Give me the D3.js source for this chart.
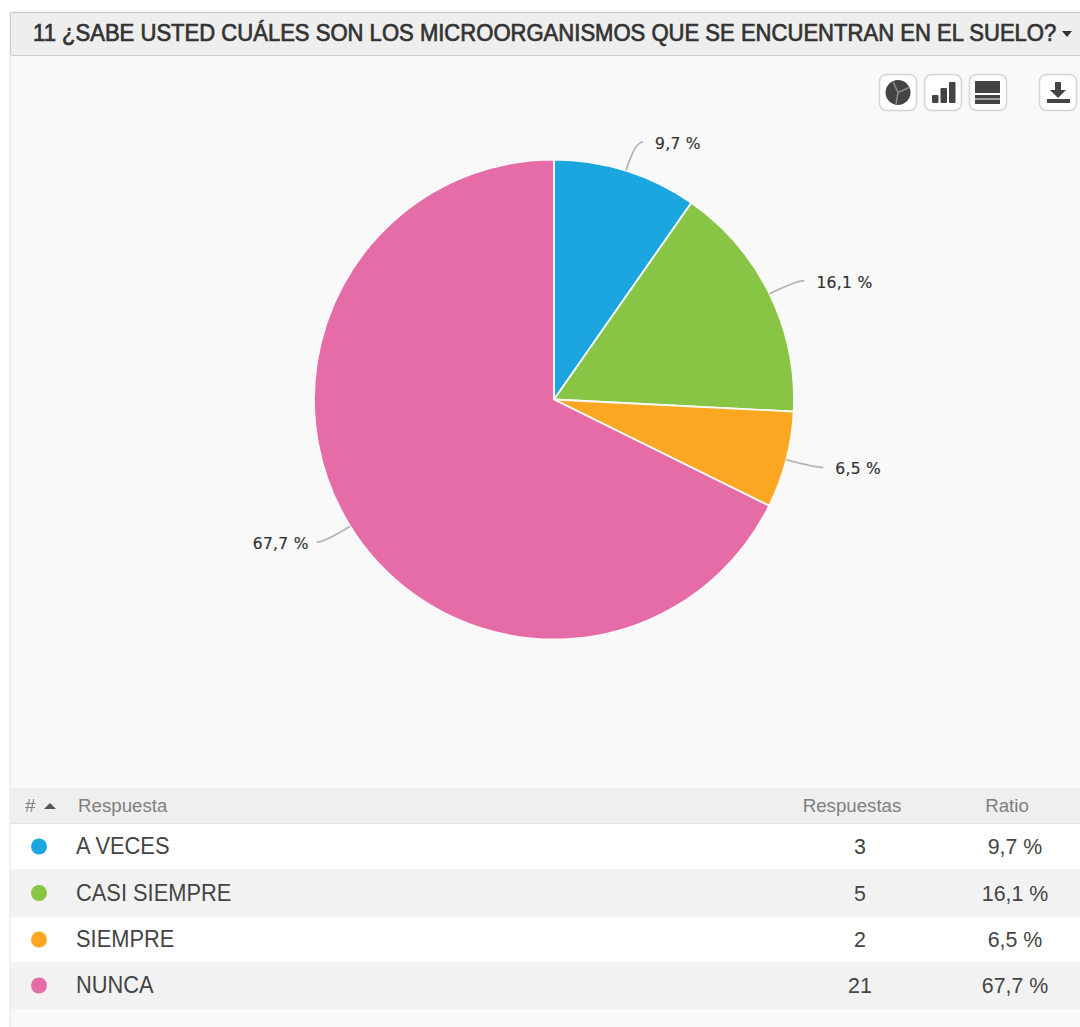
<!DOCTYPE html>
<html lang="es">
<head>
<meta charset="utf-8">
<title>Microorganismos del suelo</title>
<style>
  html, body { margin: 0; padding: 0; background: #fff; }
  svg { display: block; }
  text { font-family: "Liberation Sans", Arial, sans-serif; }
  text.pct { font-family: "DejaVu Sans", Verdana, sans-serif; }
</style>
<script src="https://cdn.jsdelivr.net/npm/d3@7"></script>
</head>
<body>
<svg id="chart" width="1080" height="1027"></svg>
<script>
// Survey question and its answers
const question = "11 ¿SABE USTED CUÁLES SON LOS MICROORGANISMOS QUE SE ENCUENTRAN EN EL SUELO?";
const answers = ["A VECES", "CASI SIEMPRE", "SIEMPRE", "NUNCA"];
const responses = [3, 5, 2, 21];
const ratios = [9.7, 16.1, 6.5, 67.7];
const colors = ["#1ca6df", "#88c545", "#fca722", "#e66ca8"];
const columnHeads = ["#", "Respuesta", "Respuestas", "Ratio"];

const fmt = v => String(v).replace(".", ",") + " %";
const svg = d3.select("#chart");

// Panel and heading bar
svg.append("rect").attr("x", 10).attr("y", 12).attr("width", 1075).attr("height", 1020)
  .attr("fill", "#f9f9f9").attr("stroke", "#e6e6e6");
svg.append("rect").attr("x", 10.5).attr("y", 12.5).attr("width", 1075).attr("height", 43).attr("rx", 2)
  .attr("fill", "#eeeeee").attr("stroke", "#cccccc");
// The heading is set slightly condensed so it fits the bar at full height
svg.append("text").attr("transform", "translate(33,41) scale(0.939,1)")
  .attr("font-size", 23.5)
  .attr("stroke", "#333").attr("stroke-width", 0.7)
  .attr("fill", "#333")
  .text(question);
svg.append("path").attr("d", "M1062 31h10l-5 6z").attr("fill", "#333");

// Toolbar buttons
const buttons = [
  { x: 879, w: 37 }, { x: 924, w: 37 }, { x: 969, w: 37 }, { x: 1039, w: 37 }
];
svg.selectAll("rect.btn").data(buttons).join("rect").attr("class", "btn")
  .attr("x", d => d.x + 0.5).attr("y", 74.5).attr("width", d => d.w).attr("height", 36).attr("rx", 7)
  .attr("fill", "#fff").attr("stroke", "#d4d4d4").attr("stroke-width", 1.5);

const ink = "#444";
// Pie icon
const iconPie = svg.append("g").attr("transform", "translate(898,92.5)");
iconPie.append("circle").attr("r", 12.5).attr("fill", ink);
iconPie.append("path").attr("d", "M0 0L-5 -11M0 0L11 -5M0 0L-2 12")
  .attr("stroke", "#8a8a8a").attr("stroke-width", 1.6).attr("fill", "none");
// Bars icon
svg.append("g").selectAll("rect").data([[932, 95], [940.5, 88], [949, 82]]).join("rect")
  .attr("x", d => d[0]).attr("y", d => d[1]).attr("width", 6.5).attr("height", d => 103 - d[1])
  .attr("rx", 1).attr("fill", ink);
// Stacked rows icon
svg.append("g").selectAll("rect").data([[81, 12], [95, 3.5], [99.5, 4.5]]).join("rect")
  .attr("x", 975).attr("y", d => d[0]).attr("width", 25).attr("height", d => d[1])
  .attr("fill", ink);
// Download icon
svg.append("path").attr("d", "M1055 82h6v8h5l-8 8l-8 -8h5z").attr("fill", ink);
svg.append("rect").attr("x", 1047).attr("y", 99).attr("width", 23).attr("height", 4).attr("fill", ink);

// Pie
const cx = 554, cy = 399.5, radius = 240;
const arcs = d3.pie().sort(null)(ratios);
const arc = d3.arc().innerRadius(0).outerRadius(radius);
const pieG = svg.append("g").attr("transform", `translate(${cx},${cy})`);
pieG.selectAll("path").data(arcs).join("path")
  .attr("d", arc)
  .attr("fill", (d, i) => colors[i])
  .attr("stroke", "#f9f9f9").attr("stroke-width", 1.8).attr("stroke-linejoin", "round");

// Leader lines and value labels
const labelRadius = 270;
const labels = arcs.map(d => {
  const a = (d.startAngle + d.endAngle) / 2;
  const side = Math.sin(a) >= 0 ? 1 : -1;
  return {
    side,
    value: d.data,
    x0: Math.sin(a) * radius, y0: -Math.cos(a) * radius,
    x1: Math.sin(a) * labelRadius + side * 8, y1: -Math.cos(a) * labelRadius
  };
});
pieG.selectAll("path.leader").data(labels).join("path").attr("class", "leader")
  .attr("d", d => `M${d.x0} ${d.y0}Q${d.x1 - d.side * 8} ${d.y1} ${d.x1} ${d.y1}`)
  .attr("fill", "none").attr("stroke", "#b5b5b5").attr("stroke-width", 1.8);
pieG.selectAll("text").data(labels).join("text").attr("class", "pct")
  .attr("x", d => d.x1 + (d.side > 0 ? 12 : -8)).attr("y", d => d.y1 + 1.5)
  .attr("dy", "0.35em")
  .attr("text-anchor", d => d.side > 0 ? "start" : "end")
  .attr("font-size", 15.5).attr("letter-spacing", 0.3)
  .attr("stroke", "#333").attr("stroke-width", 0.2)
  .attr("fill", "#333")
  .text(d => fmt(d.value));

// Table
const tableX = 11, tableW = 1069;
const colX = { marker: 39, name: 76, count: 860, ratio: 1015 };
svg.append("rect").attr("x", tableX).attr("y", 788).attr("width", tableW).attr("height", 36).attr("fill", "#efefef");
svg.append("rect").attr("x", tableX).attr("y", 823).attr("width", tableW).attr("height", 1.5).attr("fill", "#e2e2e2");

const head = svg.append("g").attr("font-size", 18.7).attr("fill", "#808080");
head.append("text").attr("x", 25).attr("y", 812).text(columnHeads[0]);
head.append("path").attr("d", "M44 809l6 -6l6 6z").attr("fill", "#555");
head.append("text").attr("x", 78).attr("y", 812).text(columnHeads[1]);
head.append("text").attr("x", 852).attr("y", 812).attr("text-anchor", "middle").text(columnHeads[2]);
head.append("text").attr("x", 1007).attr("y", 812).attr("text-anchor", "middle").text(columnHeads[3]);

// Row edges follow the table's own row rhythm
const rowTop = d3.scaleOrdinal().domain(answers).range([824, 869, 917, 962]);
const rowBottom = d3.scaleOrdinal().domain(answers).range([869, 917, 962, 1009]);
const rowMid = d => (rowTop(d) + rowBottom(d)) / 2;
const rows = svg.selectAll("g.row").data(answers).join("g").attr("class", "row");
rows.append("rect")
  .attr("x", tableX).attr("width", tableW)
  .attr("y", d => rowTop(d)).attr("height", d => rowBottom(d) - rowTop(d))
  .attr("fill", (d, i) => i % 2 ? "#f2f2f2" : "#ffffff");
rows.append("circle")
  .attr("cx", colX.marker).attr("cy", rowMid).attr("r", 8)
  .attr("fill", (d, i) => colors[i]);
rows.append("text")
  .attr("transform", d => `translate(${colX.name},${rowMid(d) + 7.5}) scale(0.95,1)`)
  .attr("font-size", 23).attr("fill", "#444").text(d => d);
rows.append("text")
  .attr("transform", d => `translate(${colX.count},${rowMid(d) + 7.5}) scale(0.93,1)`)
  .attr("text-anchor", "middle").attr("font-size", 23).attr("fill", "#444")
  .text((d, i) => responses[i]);
rows.append("text")
  .attr("transform", d => `translate(${colX.ratio},${rowMid(d) + 7.5}) scale(0.93,1)`)
  .attr("text-anchor", "middle").attr("font-size", 23).attr("fill", "#444")
  .text((d, i) => fmt(ratios[i]));
</script>
</body>
</html>
